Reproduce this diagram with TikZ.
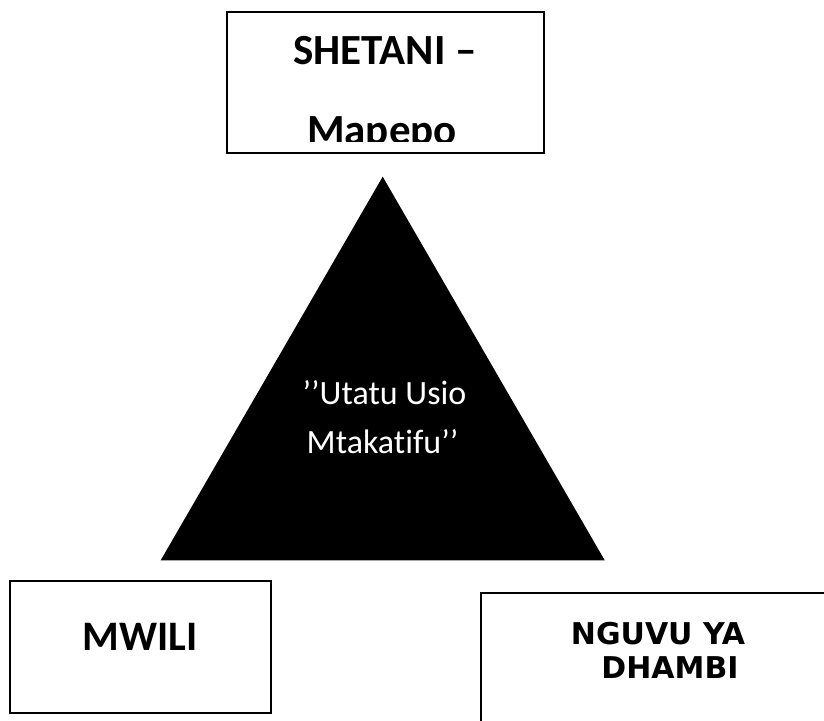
\documentclass[tikz,border=0pt]{standalone}
\usepackage{fontspec}
\newfontfamily\calibri{Carlito}[Ligatures={NoCommon}]
\newfontfamily\heavyfont{DejaVu Sans}
\tikzset{
  boxshape/.style={draw=black, line width=1.8pt, fill=white, inner sep=0pt},
  bigbold/.style={font=\calibri\bfseries\fontsize{43}{50}\selectfont, inner sep=0pt, anchor=base},
  tritext/.style={font=\calibri\fontsize{34}{40}\selectfont, text=white, inner sep=0pt, anchor=base},
  heavytext/.style={font=\heavyfont\bfseries\fontsize{30}{36}\selectfont, inner sep=0pt, anchor=base}
}
\begin{document}
\begin{tikzpicture}[x=1pt,y=1pt]
\useasboundingbox (0,0) rectangle (824,720);
\clip (0,0) rectangle (824,720);
% top box
\node[boxshape, minimum width=317pt, minimum height=141pt] (topbox) at (385.5,637.5) {};
\begin{scope}
  \clip (227,578) rectangle (544,708);
  \node[bigbold] (shetani) at (385,655) {SHETANI –};
  \node[bigbold] (mapepo) at (382,575) {Mapepo};
\end{scope}
% triangle
\fill[black] (382.7,543.3) -- (160.7,159.7) -- (604.7,159.7) -- cycle;
\node[tritext] (utatu) at (384.5,315) {’’Utatu Usio};
\node[tritext] (mtakatifu) at (382.5,266) {Mtakatifu’’};
% bottom left box
\node[boxshape, minimum width=261pt, minimum height=132pt] (mwilibox) at (140.5,73) {};
\node[bigbold, font=\calibri\bfseries\fontsize{42}{50}\selectfont] (mwili) at (140,70) {MWILI};
% bottom right box
\node[boxshape, minimum width=380pt, minimum height=160pt] (nguvubox) at (671,47) {};
\node[heavytext] (nguvu) at (658,75) {NGUVU YA};
\node[heavytext] (dhambi) at (670,42) {DHAMBI};
\end{tikzpicture}
\end{document}
